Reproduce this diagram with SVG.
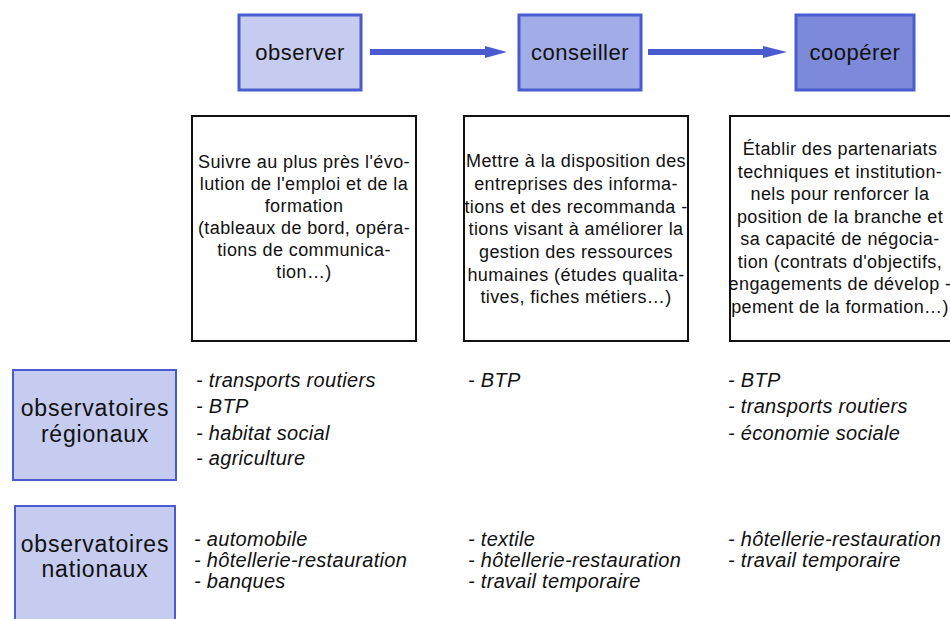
<svg xmlns="http://www.w3.org/2000/svg" width="950" height="619" viewBox="0 0 950 619">
<style>
.step{stroke:#4a5bd0;stroke-width:3}
.lbl{font-family:"Liberation Sans",Arial,sans-serif;font-size:22px;letter-spacing:0.5px;fill:#111;text-anchor:middle}
.rl{font-family:"Liberation Sans",Arial,sans-serif;font-size:23px;letter-spacing:0.8px;fill:#111;text-anchor:middle}
.desc{fill:#fff;stroke:#111;stroke-width:2}
.body{font-family:"Liberation Sans",Arial,sans-serif;font-size:18px;letter-spacing:0.4px;fill:#111;text-anchor:middle}
.lst{font-family:"Liberation Sans",Arial,sans-serif;font-size:20px;letter-spacing:0.3px;fill:#111;font-style:italic}
.obs{fill:#c6cbf0;stroke:#4a5bd0;stroke-width:2}
</style>
<g id="connectors">
<line x1="370" y1="52" x2="488" y2="52" stroke="#4a5bd0" stroke-width="6"/>
<polygon points="485,46 507,52 485,58" fill="#4a5bd0"/>
<line x1="648" y1="52" x2="766" y2="52" stroke="#4a5bd0" stroke-width="6"/>
<polygon points="763,46 787,52 763,58" fill="#4a5bd0"/>
</g>
<g id="observer">
<rect class="step" x="239" y="15" width="122" height="75" fill="#c6cbf0"/>
<text class="lbl" x="300" y="60">observer</text>
</g>
<g id="conseiller">
<rect class="step" x="519" y="15" width="122" height="75" fill="#a2ace6"/>
<text class="lbl" x="580" y="60">conseiller</text>
</g>
<g id="cooperer">
<rect class="step" x="796" y="15" width="118" height="75" fill="#7d8ad9"/>
<text class="lbl" x="855" y="60">coopérer</text>
</g>
<g id="desc-observer">
<rect class="desc" x="192" y="116" width="224" height="225"/>
<text class="body" x="304" y="168">Suivre au plus près l'évo-</text>
<text class="body" x="304" y="190">lution de l'emploi et de la</text>
<text class="body" x="304" y="212">formation</text>
<text class="body" x="304" y="234">(tableaux de bord, opéra-</text>
<text class="body" x="304" y="256">tions de communica-</text>
<text class="body" x="304" y="278">tion…)</text>
</g>
<g id="desc-conseiller">
<rect class="desc" x="464" y="116" width="224" height="225"/>
<text class="body" x="576" y="167">Mettre à la disposition des</text>
<text class="body" x="576" y="190">entreprises des informa-</text>
<text class="body" x="576" y="213">tions et des recommanda -</text>
<text class="body" x="576" y="235">tions visant à améliorer la</text>
<text class="body" x="576" y="258">gestion des ressources</text>
<text class="body" x="576" y="281">humaines (études qualita-</text>
<text class="body" x="576" y="303">tives, fiches métiers…)</text>
</g>
<g id="desc-cooperer">
<rect class="desc" x="730" y="116" width="224" height="225"/>
<text class="body" x="840" y="155">Établir des partenariats</text>
<text class="body" x="840" y="178">techniques et institution-</text>
<text class="body" x="840" y="200">nels pour renforcer la</text>
<text class="body" x="840" y="223">position de la branche et</text>
<text class="body" x="840" y="245">sa capacité de négocia-</text>
<text class="body" x="840" y="268">tion (contrats d'objectifs,</text>
<text class="body" x="840" y="290">engagements de dévelop -</text>
<text class="body" x="840" y="313">pement de la formation…)</text>
</g>
<g id="obs-regionaux">
<rect class="obs" x="13" y="370" width="163" height="110"/>
<text class="rl" x="95" y="416">observatoires</text>
<text class="rl" x="95" y="442">régionaux</text>
</g>
<g id="obs-nationaux">
<rect class="obs" x="15" y="506" width="160" height="120"/>
<text class="rl" x="95" y="552">observatoires</text>
<text class="rl" x="95" y="577">nationaux</text>
</g>
<g id="list-regionaux">
<text class="lst" x="196" y="387">- transports routiers</text>
<text class="lst" x="196" y="413">- BTP</text>
<text class="lst" x="196" y="440">- habitat social</text>
<text class="lst" x="196" y="465">- agriculture</text>
<text class="lst" x="468" y="387">- BTP</text>
<text class="lst" x="728" y="387">- BTP</text>
<text class="lst" x="728" y="413">- transports routiers</text>
<text class="lst" x="728" y="440">- économie sociale</text>
</g>
<g id="list-nationaux">
<text class="lst" x="194" y="546">- automobile</text>
<text class="lst" x="194" y="567">- hôtellerie-restauration</text>
<text class="lst" x="194" y="588">- banques</text>
<text class="lst" x="468" y="546">- textile</text>
<text class="lst" x="468" y="567">- hôtellerie-restauration</text>
<text class="lst" x="468" y="588">- travail temporaire</text>
<text class="lst" x="728" y="546">- hôtellerie-restauration</text>
<text class="lst" x="728" y="567">- travail temporaire</text>
</g>
</svg>
